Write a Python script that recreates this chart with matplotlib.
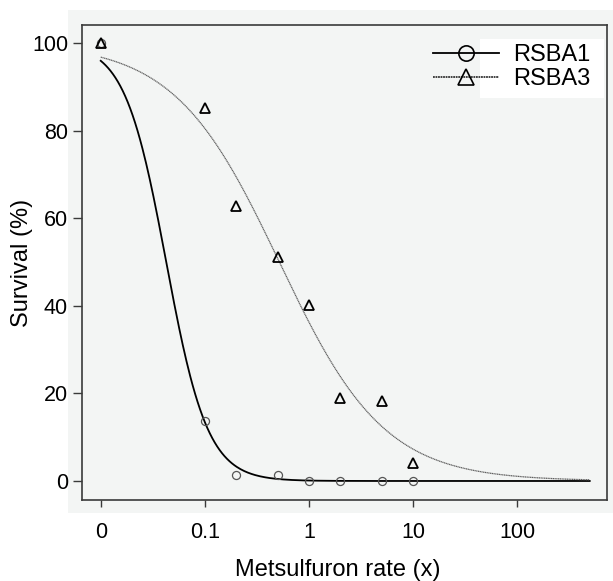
import numpy as np
import matplotlib.pyplot as plt
from matplotlib.patches import Rectangle

plt.rcParams['font.family'] = ['Liberation Sans', 'DejaVu Sans']

# doses (x rate); the untreated control (0) is drawn at 0.01 on the log axis
dose = [0.01, 0.1, 0.2, 0.5, 1, 2, 5, 10]
rsba1 = [100, 13.7, 1.4, 1.4, 0, 0, 0, 0]
rsba3 = [100, 85.2, 62.8, 51.1, 40.2, 19.0, 18.3, 4.1]

# fitted log-logistic curves: survival = 100 / (1 + (x / ED50) ** slope)
fit_names = ["RSBA1", "RSBA3"]
fit_slope = [2.18, 0.86]
fit_ed50 = [0.0426, 0.52]
fit_range = [0.01, 500]

xticks = [0.01, 0.1, 1, 10, 100]
xticklabels = ["0", "0.1", "1", "10", "100"]
yticks = [0, 20, 40, 60, 80, 100]

bg = "#f3f5f4"
W, H = 613, 581

fig = plt.figure(figsize=(W / 100, H / 100), dpi=100)
fig.patches.append(Rectangle((68 / W, 1 - 513 / H), 1 - 68 / W, 503 / H,
                             transform=fig.transFigure, facecolor=bg,
                             edgecolor="none", zorder=-5))
ax = fig.add_axes([82 / W, 1 - 500 / H, 525 / W, 475 / H])
ax.set_facecolor(bg)

xs = np.logspace(np.log10(fit_range[0]), np.log10(fit_range[1]), 400)
y1 = 100 / (1 + (xs / fit_ed50[0]) ** fit_slope[0])
y3 = 100 / (1 + (xs / fit_ed50[1]) ** fit_slope[1])
ax.plot(xs, y1, color="black", lw=1.3, zorder=2)
ax.plot(xs, y3, color="#606060", lw=0.9, ls=(0, (1, 0.4)), zorder=2)

ax.plot(dose, rsba1, ls="none", marker="o", ms=5.8, mfc="none",
        mec="#555555", mew=0.9, zorder=3)
ax.plot(dose, rsba3, ls="none", marker="^", ms=6.5, mfc="none",
        mec="black", mew=1.3, zorder=3)

ax.set_xscale("log")
ax.set_xlim(10 ** -2.18, 10 ** 2.865)
ax.set_ylim(-4.34, 104.1)
ax.set_xticks(xticks)
ax.set_xticklabels(xticklabels)
ax.minorticks_off()
ax.set_yticks(yticks)

for s in ax.spines.values():
    s.set_color("#3a3a3a")
    s.set_linewidth(1.2)
ax.tick_params(axis="x", length=5, width=1.0, color="#3a3a3a",
               labelsize=15.5, pad=10.5)
ax.tick_params(axis="y", length=6.5, width=1.0, color="#3a3a3a",
               labelsize=15.5, pad=3.5)

ax.set_xlabel("Metsulfuron rate (x)", fontsize=17)
ax.xaxis.set_label_coords(0.488, -0.124)
ax.set_ylabel("Survival (%)", fontsize=17, labelpad=-1)

# white box behind the legend labels
ax.add_patch(Rectangle((0.758, 0.846), 0.236, 0.125, transform=ax.transAxes,
                       facecolor="white", edgecolor="none", zorder=4))
h1, = ax.plot([], [], color="black", lw=1.3, marker="o", ms=11,
              mfc="none", mec="black", mew=1.2)
h3, = ax.plot([], [], color="#333333", lw=1.3, ls=(0, (1, 0.4)), marker="^",
              ms=12, mfc="none", mec="black", mew=1.2)
leg = ax.legend([h1, h3], fit_names, loc="upper left",
                bbox_to_anchor=(0.668, 0.96), frameon=False, fontsize=17,
                handlelength=2.8, handletextpad=0.6, labelspacing=0.1,
                borderpad=0, borderaxespad=0)
leg.set_zorder(5)

fig.savefig("out.png", dpi=100)
